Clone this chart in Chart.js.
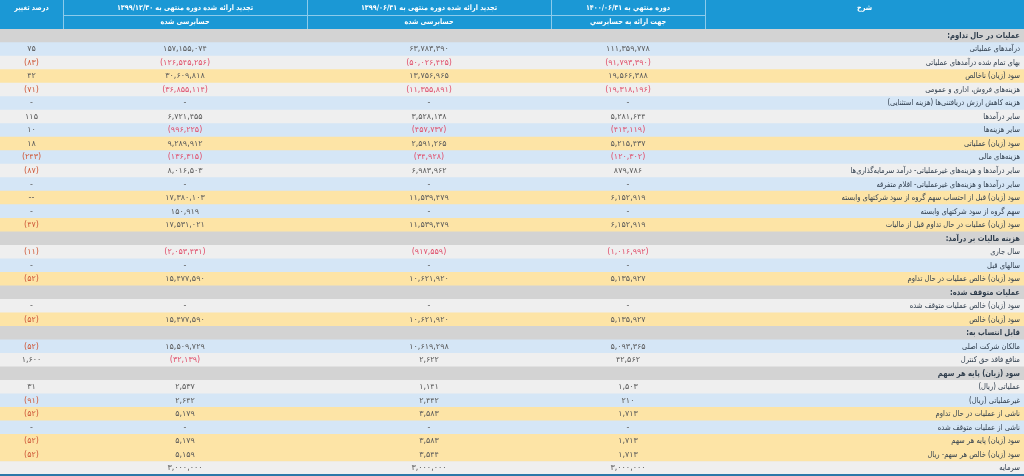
<!DOCTYPE html>
<html>
<head>
<meta charset="utf-8">
<script src="https://cdn.jsdelivr.net/npm/chart.js@4/dist/chart.umd.min.js"></script>
<style>
  html,body{margin:0;padding:0;background:#fff;}
  #table-wrap{width:1024px;height:476px;}
</style>
</head>
<body>
<div id="table-wrap"><canvas id="table-canvas" width="1024" height="476"></canvas></div>
<script>
//----- table data (rows from top to bottom) -----//
const rowLabels = [
  'عملیات در حال تداوم:',
  'درآمدهای عملیاتی',
  'بهای تمام شده درآمدهای عملیاتی',
  'سود (زیان) ناخالص',
  'هزینه‌های فروش، اداری و عمومی',
  'هزینه کاهش ارزش دریافتنی‌ها (هزینه استثنایی)',
  'سایر درآمدها',
  'سایر هزینه‌ها',
  'سود (زیان) عملیاتی',
  'هزینه‌های مالی',
  'سایر درآمدها و هزینه‌های غیرعملیاتی- درآمد سرمایه‌گذاری‌ها',
  'سایر درآمدها و هزینه‌های غیرعملیاتی- اقلام متفرقه',
  'سود (زیان) قبل از احتساب سهم گروه از سود شرکتهای وابسته',
  'سهم گروه از سود شرکتهای وابسته',
  'سود (زیان) عملیات در حال تداوم قبل از مالیات',
  'هزینه مالیات بر درآمد:',
  'سال جاری',
  'سالهای قبل',
  'سود (زیان) خالص عملیات در حال تداوم',
  'عملیات متوقف شده:',
  'سود (زیان) خالص عملیات متوقف شده',
  'سود (زیان) خالص',
  'قابل انتساب به:',
  'مالکان شرکت اصلی',
  'منافع فاقد حق کنترل',
  'سود (زیان) پایه هر سهم',
  'عملیاتی (ریال)',
  'غیرعملیاتی (ریال)',
  'ناشی از عملیات در حال تداوم',
  'ناشی از عملیات متوقف شده',
  'سود (زیان) پایه هر سهم',
  'سود (زیان) خالص هر سهم- ریال',
  'سرمایه'
];
// section = grey heading row, blue / grey / yellow = body row shades
const rowKinds = [
  'section','blue','grey','yellow','grey','blue','grey','blue','yellow','blue',
  'grey','blue','yellow','blue','yellow','section','grey','blue','yellow','section',
  'grey','yellow','section','blue','grey','section','grey','blue','yellow','blue',
  'yellow','yellow','grey'
];
// '' = empty cell, null = '-'
const values1400 = [
  '',111359778,-91793390,19566388,-19318196,null,5281644,-413119,5215437,-120302,
  879786,null,6152919,null,6152919,'',-1016992,null,5135927,'',
  null,5135927,'',5093365,42562,'',1503,210,1713,null,
  1713,1713,3000000
];
const values9906 = [
  '',63783390,-50026425,13756965,-11355891,null,3528138,-457737,2591265,-34928,
  6983962,null,11539479,null,11539479,'',-917559,null,10621920,'',
  null,10621920,'',10619298,2622,'',1141,2442,3583,null,
  3583,3544,3000000
];
const values9912 = [
  '',157155074,-126545256,30609818,-36855114,null,6721455,-996225,9289912,-136315,
  8016503,null,17380103,150919,17531021,'',-2053431,null,15477590,'',
  null,15477590,'',15509729,-32139,'',2537,2642,5179,null,
  5179,5159,3000000
];
const changePct = [
  '',75,-83,42,-71,null,115,10,18,-243,
  -87,null,'--',null,-47,'',-11,null,-52,'',
  null,-52,'',-52,1600,'',31,-91,-52,null,
  -52,-52,''
];
//----- header texts (left to right) -----//
const headerTop = ['درصد تغییر','تجدید ارائه شده دوره منتهی به ۱۳۹۹/۱۲/۳۰','تجدید ارائه شده دوره منتهی به ۱۳۹۹/۰۶/۳۱','دوره منتهي به ۱۴۰۰/۰۶/۳۱','شرح'];
const headerSub = ['','حسابرسی شده','حسابرسی شده','جهت ارائه به حسابرسي',''];

//----- layout / style -----//
const colEdges   = [0,63,307,551,705,1024];
const headerH    = 29;
const headerBlue = '#1b98d5';
const kindColors = {section:'#d3d3d3', blue:'#d5e6f6', grey:'#efefef', yellow:'#fde4a6'};
const fontFa     = '"DejaVu Sans", sans-serif';
const squeezeFa  = 0.85; // persian glyphs of DejaVu are wider than the original font

//----- helpers -----//
function toFaDigits(str){
  const fa = '۰۱۲۳۴۵۶۷۸۹';
  return String(str).replace(/[0-9]/g, d => fa[d]);
}
function cellText(v){
  if(v === '') return '';
  if(v === null) return '-';
  if(typeof v === 'string') return v;
  let s = toFaDigits(Math.abs(v).toLocaleString('en-US'));
  return v<0 ? '('+s+')' : s;
}
function drawFa(ctx, text, x, y, squeeze){
  //draw persian text narrower through the maxWidth argument
  let w = ctx.measureText(text).width;
  ctx.fillText(text, x, y, w*squeeze);
}

//----- plugin: header + cell texts -----//
const tablePlugin = {
  id:'tableText',
  afterDraw(chart){
    const ctx  = chart.ctx;
    const xs   = chart.scales.x;
    const ys   = chart.scales.y;
    const area = chart.chartArea;
    const px   = v => xs.getPixelForValue(v);
    ctx.save();
    //-- header --//
    ctx.fillStyle = headerBlue;
    ctx.fillRect(px(colEdges[0]), 0, px(colEdges[5])-px(colEdges[0]), area.top);
    ctx.strokeStyle = '#8ccbeb';
    ctx.lineWidth = 1;
    ctx.beginPath();
    for(let c=1;c<colEdges.length-1;c++){
      ctx.moveTo(Math.round(px(colEdges[c]))+0.5, 0);
      ctx.lineTo(Math.round(px(colEdges[c]))+0.5, area.top);
    }
    ctx.moveTo(px(colEdges[1]), 15.5);
    ctx.lineTo(px(colEdges[4]), 15.5);
    ctx.stroke();

    ctx.fillStyle = '#ffffff';
    ctx.textAlign = 'center';
    ctx.textBaseline = 'middle';
    ctx.direction = 'rtl';
    ctx.font = 'bold 7.5px '+fontFa;
    for(let c=0;c<headerTop.length;c++){
      let cx = (px(colEdges[c])+px(colEdges[c+1]))/2;
      drawFa(ctx, headerTop[c], cx, 8, 0.86);
      if(headerSub[c]) drawFa(ctx, headerSub[c], cx, 22.5, 0.86);
    }
    //-- body --//
    const cols = [changePct, values9912, values9906, values1400];
    for(let i=0;i<rowLabels.length;i++){
      let y = ys.getPixelForValue(i);
      ctx.direction = 'rtl';
      ctx.textAlign = 'right';
      ctx.fillStyle = '#2f3d4c';
      ctx.font = (rowKinds[i]=='section' ? 'bold ' : '')+'8px '+fontFa;
      drawFa(ctx, rowLabels[i], px(colEdges[5]-4), y, squeezeFa);

      ctx.direction = 'ltr';
      ctx.textAlign = 'center';
      ctx.font = '8px '+fontFa;
      for(let c=0;c<cols.length;c++){
        let v = cols[c][i];
        let cx = (px(colEdges[c])+px(colEdges[c+1]))/2;
        if(typeof v == 'number' && v<0){
          ctx.fillStyle = c==0 ? '#cf5a3a' : '#e0506c';
        } else {
          ctx.fillStyle = '#5a5a5a';
        }
        ctx.fillText(toFaDigits(cellText(v)), cx, y);
      }
    }
    //-- bottom border --//
    ctx.fillStyle = '#2b78a8';
    ctx.fillRect(px(colEdges[0]), area.bottom-1, px(colEdges[5])-px(colEdges[0]), 2);
    ctx.restore();
  }
};

//----- create chart -----//
const canvas = document.getElementById('table-canvas');
const tableChart = new Chart(canvas, {
  type:'bar',
  data:{
    labels: rowLabels,
    datasets:[{
      data: rowLabels.map(() => [colEdges[0], colEdges[colEdges.length-1]]),
      backgroundColor: rowKinds.map(k => kindColors[k]),
      borderWidth:0,
      barPercentage:1,
      categoryPercentage:1
    }]
  },
  options:{
    indexAxis:'y',
    responsive:false,
    animation:false,
    devicePixelRatio:1,
    layout:{padding:{top:headerH, bottom:1, left:0, right:0}},
    plugins:{legend:{display:false}, tooltip:{enabled:false}},
    scales:{
      x:{
        type:'linear', min:colEdges[0], max:colEdges[colEdges.length-1],
        z:1,
        afterBuildTicks: axis => { axis.ticks = colEdges.slice(1,-1).map(v => ({value:v})); },
        ticks:{display:false},
        grid:{color:'#a9a9a9', drawTicks:false, lineWidth:1},
        border:{display:false}
      },
      y:{
        type:'category',
        z:1,
        ticks:{display:false},
        grid:{color:'#cdcdcd', drawTicks:false, offset:true, lineWidth:1},
        border:{display:false}
      }
    }
  },
  plugins:[tablePlugin]
});
</script>
</body>
</html>
